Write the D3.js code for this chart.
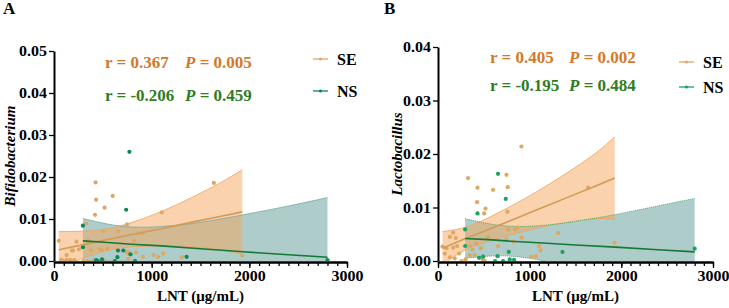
<!DOCTYPE html>
<html>
<head>
<meta charset="utf-8">
<script src="https://cdn.jsdelivr.net/npm/d3@7"></script>
<style>
  body { margin: 0; background: #fff; }
  svg text { font-family: 'Liberation Serif', 'DejaVu Serif', serif !important; font-weight: bold; }
</style>
</head>
<body>
<div id="chart"></div>
<script>
// LNT values (µg/mL) shared by both panels
const seLnt = [49, 74, 93, 129, 129, 165, 165, 183, 194, 208, 230, 256, 300, 328, 347, 347, 376, 401, 420, 426,
    431, 467, 490, 503, 510, 518, 546, 601, 656, 747, 747, 758, 761, 765, 819, 838, 863, 910, 910, 1020,
    1066, 1103, 1119, 1310, 1637, 1928];
const seBifido = [0.0048, 0.0003, 0.0000, 0.0014, 0.0002, 0.0003, 0.0000, 0.0025, 0.0025, 0.0002, 0.0046, 0.0028, 0.0000, 0.0089, 0.0048, 0.0000, 0.0026, 0.0001, 0.0110, 0.0187,
    0.0146, 0.0028, 0.0026, 0.0071, 0.0001, 0.0127, 0.0030, 0.0155, 0.0071, 0.0087, 0.0021, 0.0018, 0.0005, 0.0021, 0.0048, 0.0020, 0.0066, 0.0010, 0.0066, 0.0014,
    0.0010, 0.0116, 0.0018, 0.0009, 0.0186, 0.0013];
const seLacto = [0.0027, 0.0014, 0.0024, 0.0045, 0.0007, 0.0053, 0.0025, 0.0005, 0.0043, 0.0028, 0.0014, 0.0000, 0.0003, 0.0155, 0.0028, 0.0011, 0.0021, 0.0011, 0.0032, 0.0110,
    0.0137, 0.0024, 0.0003, 0.0089, 0.0000, 0.0098, 0.0044, 0.0133, 0.0028, 0.0161, 0.0041, 0.0092, 0.0138, 0.0059, 0.0036, 0.0059, 0.0062, 0.0214, 0.0044, 0.0008,
    0.0009, 0.0028, 0.0020, 0.0052, 0.0137, 0.0034];

const nsLnt = [296, 296, 431, 448, 492, 623, 649, 655, 710, 739, 772, 783, 830, 1358, 2800];
const nsBifido = [0.0084, 0.0033, 0.0002, 0.0000, 0.0004, 0.0000, 0.0009, 0.0025, 0.0025, 0.0122, 0.0260, 0.0016, 0.0000, 0.0010, 0.0002];
const nsLacto = [0.0059, 0.0028, 0.0089, 0.0006, 0.0008, 0.0000, 0.0009, 0.0163, 0.0000, 0.0116, 0.0017, 0.0003, 0.0002, 0.0017, 0.0023];

// linear fits with 95% CI
const seFitLnt = [49, 300, 550, 800, 1100, 1400, 1700, 1928];
const nsFitLnt = [296, 550, 792, 1100, 1500, 1938, 2400, 2800];
const seFitA = [0.0027, 0.0039, 0.0051, 0.0063, 0.0077, 0.0092, 0.0106, 0.0117];
const seHiA = [0.0070, 0.0071, 0.0077, 0.0092, 0.0118, 0.0150, 0.0186, 0.0217];
const seLoA = [-0.0016, 0.0007, 0.0025, 0.0034, 0.0036, 0.0034, 0.0026, 0.0017];
const nsFitA = [0.0048, 0.0044, 0.0040, 0.0036, 0.0029, 0.0022, 0.0015, 0.0009];
const nsHiA = [0.0101, 0.0088, 0.0081, 0.0082, 0.0092, 0.0110, 0.0131, 0.0151];
const nsLoA = [-0.0005, 0.0000, -0.0001, -0.0010, -0.0034, -0.0066, -0.0101, -0.0133];
const seFitB = [0.0024, 0.0042, 0.0059, 0.0076, 0.0097, 0.0118, 0.0139, 0.0155];
const seHiB = [0.0055, 0.0063, 0.0081, 0.0103, 0.0132, 0.0164, 0.0199, 0.0232];
const seLoB = [-0.0007, 0.0021, 0.0037, 0.0049, 0.0062, 0.0072, 0.0079, 0.0078];
const nsFitB = [0.0042, 0.0040, 0.0037, 0.0034, 0.0030, 0.0026, 0.0021, 0.0017];
const nsHiB = [0.0079, 0.0070, 0.0065, 0.0066, 0.0074, 0.0087, 0.0103, 0.0117];
const nsLoB = [0.0005, 0.0009, 0.0009, 0.0002, -0.0014, -0.0036, -0.0061, -0.0083];

const groups = ['SE', 'NS'];
const xTicks = [0, 1000, 2000, 3000];
const yTicksA = [0, 0.01, 0.02, 0.03, 0.04, 0.05];
const yTicksB = [0, 0.01, 0.02, 0.03, 0.04];
const statsA = [['0.367', '0.005'], ['-0.206', '0.459']];
const statsB = [['0.405', '0.002'], ['-0.195', '0.484']];

const seColor = '#dea862', seBand = '#f5a65b', seLine = '#d29b55', seText = '#d4782a';
const nsBand = '#5e9a94', nsLine = '#137a36', nsText = '#2f7d1f';
const font = "'Liberation Serif', 'DejaVu Serif', serif";

const svg = d3.select('#chart').append('svg')
    .attr('width', 729)
    .attr('height', 308)
    .style('font-family', font);

// widen horizontal text a bit, the source figure is stretched sideways
function stretch(sel, sx) {
    sel.each(function () {
        const t = d3.select(this);
        const x = parseFloat(t.attr('x')) || 0, y = parseFloat(t.attr('y')) || 0;
        t.attr('transform', `translate(${x},${y}) scale(${sx},1) translate(${-x},${-y})`);
    });
}

function band(xs, mid, lo, hi) {
    return xs.map((x, i) => ({x, y: mid[i], lo: lo[i], hi: hi[i]}));
}

function panel(o) {
    const x = d3.scaleLinear().domain([0, 3000]).range(o.xr);
    const y = d3.scaleLinear().domain([0, o.ymax]).range(o.yr);
    const g = svg.append('g');

    g.append('clipPath').attr('id', 'clip' + o.id)
        .append('rect')
        .attr('x', o.xr[0]).attr('y', 0)
        .attr('width', o.xr[1] - o.xr[0] + 5).attr('height', o.yr[0]);

    const plot = g.append('g').attr('clip-path', `url(#clip${o.id})`);
    const area = d3.area().curve(d3.curveNatural).x(d => x(d.x)).y0(d => y(d.lo)).y1(d => y(d.hi));
    const line = d3.line().x(d => x(d.x)).y(d => y(d.y));

    const nsFit = band(nsFitLnt, o.nsFit[0], o.nsFit[1], o.nsFit[2]);
    const seFit = band(seFitLnt, o.seFit[0], o.seFit[1], o.seFit[2]);

    plot.append('path').datum(nsFit).attr('d', area)
        .attr('fill', nsBand).attr('fill-opacity', 0.5);
    plot.append('path').datum(seFit).attr('d', area)
        .attr('fill', seBand).attr('fill-opacity', 0.5);

    // CI edges
    ['lo', 'hi'].forEach(k => {
        const edge = d3.line().curve(d3.curveNatural).x(d => x(d.x)).y(d => y(d[k]));
        plot.append('path').datum(seFit).attr('d', edge)
            .attr('fill', 'none').attr('stroke', '#f3a35a').attr('stroke-width', 0.8);
        plot.append('path').datum(nsFit).attr('d', edge)
            .attr('fill', 'none').attr('stroke', o.id === 'B' ? '#2a9a5a' : '#7aaaa2')
            .attr('stroke-width', 0.8).attr('stroke-dasharray', o.id === 'B' ? '1,1' : null);
    });

    plot.selectAll('.se').data(seLnt).enter().append('circle')
        .attr('cx', d => x(d)).attr('cy', (d, i) => y(o.se[i])).attr('r', 2.1)
        .attr('fill', seColor);
    plot.selectAll('.ns').data(nsLnt).enter().append('circle')
        .attr('cx', d => x(d)).attr('cy', (d, i) => y(o.ns[i])).attr('r', 2.1)
        .attr('fill', o.nsDot);

    plot.append('path').datum(seFit).attr('d', line)
        .attr('fill', 'none').attr('stroke', seLine).attr('stroke-width', 1.6);
    plot.append('path').datum(nsFit).attr('d', line)
        .attr('fill', 'none').attr('stroke', nsLine).attr('stroke-width', 1.6);

    // axes
    const yAxis = g.append('g').attr('transform', `translate(${o.xr[0]},0)`)
        .call(d3.axisLeft(y).tickValues(o.yTicks).tickFormat(d3.format('.2f')).tickSize(5).tickSizeOuter(0));
    const xMinor = g.append('g').attr('transform', `translate(0,${o.yr[0] + 1})`)
        .call(d3.axisBottom(x).tickValues(d3.range(0, 3001, 100)).tickFormat('').tickSize(4).tickSizeOuter(0));
    const xAxis = g.append('g').attr('transform', `translate(0,${o.yr[0] + 1})`)
        .call(d3.axisBottom(x).tickValues(xTicks).tickFormat(d3.format('d')).tickSize(6).tickSizeOuter(0));
    [yAxis, xAxis, xMinor].forEach(a => {
        a.attr('font-family', font);
        a.select('.domain').attr('stroke', '#000').attr('stroke-width', 2);
        a.selectAll('line').attr('stroke', '#000').attr('stroke-width', 1.3);
        a.selectAll('text').attr('fill', '#000').style('font-size', '14.5px');
    });
    yAxis.selectAll('text').attr('x', -7);
    xAxis.selectAll('text').attr('y', 9);
    stretch(yAxis.selectAll('text'), 1.1);
    stretch(xAxis.selectAll('text'), 1.1);

    g.append('text').attr('x', (o.xr[0] + o.xr[1]) / 2).attr('y', 301)
        .attr('text-anchor', 'middle').style('font-size', '15px').text('LNT (μg/mL)');
    g.append('text')
        .attr('transform', `translate(${o.ylabX},${(o.yr[0] + o.yr[1]) / 2}) rotate(-90)`)
        .attr('text-anchor', 'middle').style('font-size', '15px').style('font-style', 'italic')
        .text(o.ylab);
    g.append('text').attr('x', o.tagX).attr('y', 14).style('font-size', '17px').text(o.id);

    // r / P annotations
    o.stats.forEach((s, i) => {
        const c = i === 0 ? seText : nsText;
        g.append('text').attr('x', o.statX[0]).attr('y', o.statY[i])
            .style('font-size', '17px').attr('fill', c).text('r = ' + s[0]);
        const p = g.append('text').attr('x', o.statX[1]).attr('y', o.statY[i])
            .style('font-size', '17px').attr('fill', c);
        p.append('tspan').style('font-style', 'italic').text('P');
        p.append('tspan').text(' = ' + s[1]);
    });

    // legend
    groups.forEach((k, i) => {
        const ly = o.legY[i];
        const c = i === 0 ? '#e0a868' : o.nsDot;
        g.append('line').attr('x1', o.legX).attr('x2', o.legX + 15)
            .attr('y1', ly).attr('y2', ly).attr('stroke', c).attr('stroke-width', 1.3);
        g.append('circle').attr('cx', o.legX + 7.5).attr('cy', ly).attr('r', 1.6).attr('fill', c);
        g.append('text').attr('x', o.legX + 24).attr('y', ly + 5.5).style('font-size', '16px').text(k);
    });
}

panel({
    id: 'A', xr: [54, 347], yr: [261, 51], ymax: 0.05, yTicks: yTicksA,
    se: seBifido, ns: nsBifido, nsDot: '#12845a',
    seFit: [seFitA, seLoA, seHiA], nsFit: [nsFitA, nsLoA, nsHiA],
    ylab: 'Bifidobacterium', ylabX: 15, tagX: 3,
    stats: statsA, statX: [105, 185], statY: [68, 101],
    legX: 313, legY: [59, 91]
});
panel({
    id: 'B', xr: [438, 713], yr: [261, 47], ymax: 0.04, yTicks: yTicksB,
    se: seLacto, ns: nsLacto, nsDot: '#1ba160',
    seFit: [seFitB, seLoB, seHiB], nsFit: [nsFitB, nsLoB, nsHiB],
    ylab: 'Lactobacillus', ylabX: 402, tagX: 384,
    stats: statsB, statX: [490, 569], statY: [63, 91],
    legX: 679, legY: [62, 87]
});
</script>
</body>
</html>
